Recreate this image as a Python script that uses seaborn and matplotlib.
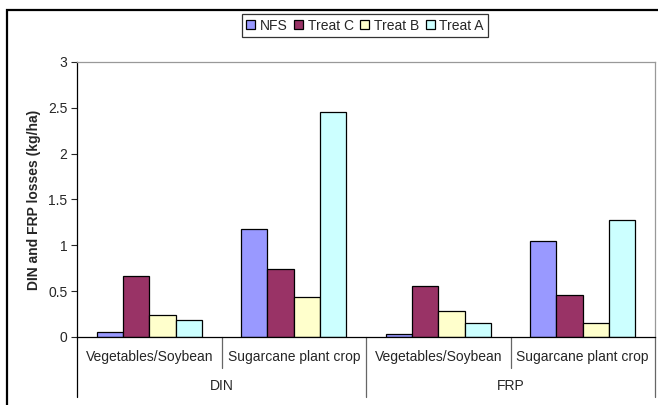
import pandas as pd
import matplotlib
matplotlib.use("Agg")
import matplotlib.pyplot as plt
from matplotlib import patches, transforms
from matplotlib.ticker import FuncFormatter
import seaborn as sns

# data
groups = ["DIN", "FRP"]
crops = ["Vegetables/Soybean", "Sugarcane plant crop"]
series = ["NFS", "Treat C", "Treat B", "Treat A"]
nfs = [0.05, 1.18, 0.03, 1.05]
treat_c = [0.67, 0.74, 0.56, 0.46]
treat_b = [0.24, 0.44, 0.28, 0.15]
treat_a = [0.19, 2.45, 0.15, 1.28]
colors = ["#9999FF", "#993366", "#FFFFCC", "#CCFFFF"]
yticks = [0, 0.5, 1, 1.5, 2, 2.5, 3]

# one x slot per group/crop pair
slots = [g + " " + c for g in groups for c in crops]
rows = []
for name, vals in zip(series, [nfs, treat_c, treat_b, treat_a]):
    for s, v in zip(slots, vals):
        rows.append({"slot": s, "series": name, "value": v})
df = pd.DataFrame(rows)

sns.set_style("white")
plt.rcParams["font.family"] = ["Liberation Sans", "DejaVu Sans"]

fig = plt.figure(figsize=(6.58, 4.05), dpi=100)
ax = fig.add_axes([77 / 658, 68 / 405, 578 / 658, 275 / 405])

sns.barplot(data=df, x="slot", y="value", hue="series", order=slots,
            hue_order=series, palette=colors, width=0.73, gap=0,
            edgecolor="black", linewidth=0.9, saturation=1, ax=ax)

ax.set_ylim(0, 3)
ax.set_xlim(-0.5, len(slots) - 0.5)
ax.set_yticks(yticks)
ax.yaxis.set_major_formatter(FuncFormatter(lambda v, p: "%g" % v))
ax.tick_params(axis="y", direction="out", length=4, width=0.8, labelsize=10,
               left=True, pad=3)
ax.tick_params(axis="x", bottom=False, labelbottom=False)
ax.set_xlabel("")
ax.set_ylabel("DIN and FRP losses (kg/ha)", fontsize=10, fontweight="bold",
              labelpad=5)

for side in ["left", "bottom"]:
    ax.spines[side].set_color("black")
    ax.spines[side].set_linewidth(0.9)
for side in ["top", "right"]:
    ax.spines[side].set_color("#999999")
    ax.spines[side].set_linewidth(0.9)

# two level category axis
tr = transforms.blended_transform_factory(ax.transData, ax.transAxes)
for i, s in enumerate(slots):
    crop = crops[i % len(crops)]
    ax.text(i, -0.073, crop, transform=tr, ha="center", va="center",
            fontsize=10)
for j, g in enumerate(groups):
    mid = j * len(crops) + (len(crops) - 1) / 2
    ax.text(mid, -0.178, g, transform=tr, ha="center", va="center",
            fontsize=10)
for k in range(len(slots) + 1):
    x = k - 0.5
    low = -0.218 if k % len(crops) == 0 else -0.113
    col = "black" if k == 0 else "#666666"
    ax.plot([x, x], [0, low], transform=tr, color=col, lw=0.9,
            clip_on=False)

handles, labels = ax.get_legend_handles_labels()
ax.legend_.remove()
leg = fig.legend(handles, labels, loc="center", ncol=4,
                 bbox_to_anchor=(365 / 658, 1 - 25.5 / 405), fontsize=10,
                 frameon=True, fancybox=False, handlelength=0.65,
                 handleheight=0.65, handletextpad=0.3, columnspacing=0.5,
                 borderpad=0.35, borderaxespad=0)
leg.get_frame().set_edgecolor("black")
leg.get_frame().set_linewidth(0.9)

# chart area border (cut off at right and bottom like the reference)
fig.add_artist(patches.Rectangle((7 / 658, -0.2), 1.2, 1 - 10 / 405 + 0.2,
                                 transform=fig.transFigure, fill=False,
                                 edgecolor="black", linewidth=1.6))

fig.savefig("out.png", dpi=100)
